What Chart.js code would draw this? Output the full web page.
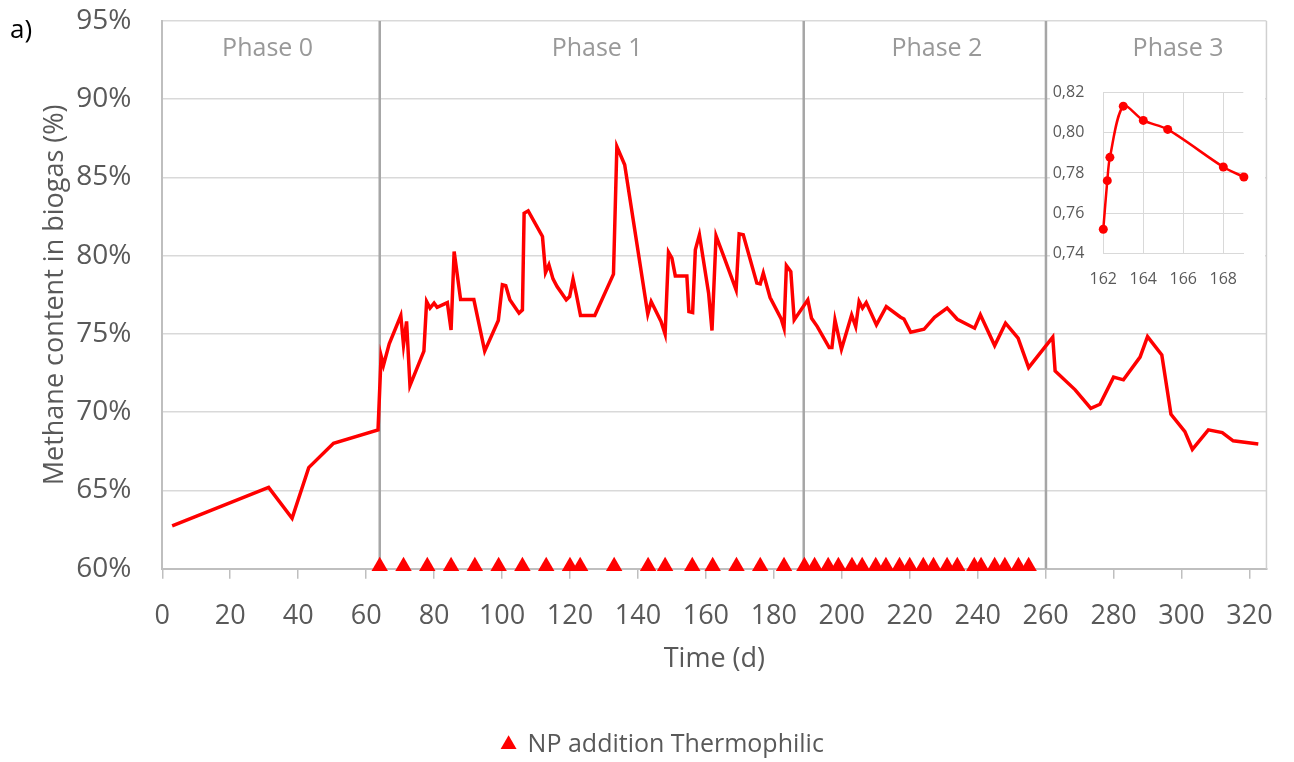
<!DOCTYPE html>
<html>
<head>
<meta charset="utf-8">
<title>Methane content in biogas</title>
<script src="https://cdn.jsdelivr.net/npm/chart.js@4.4.1/dist/chart.umd.min.js"></script>
<style>
  body { margin: 0; background: #fff; }
  #wrap { position: relative; width: 1294px; height: 762px; }
  #inset { position: absolute; left: 1050px; top: 70px; background: #fff; }
</style>
</head>
<body>
<div id="wrap">
  <canvas id="mainChart" width="1294" height="762"></canvas>
  <canvas id="inset" width="215" height="228"></canvas>
</div>
<script>
// Methane content (%) over time (d)
const days = [
  2.9, 31.3, 38.2, 43.1, 50.4, 63.5, 64.4, 65.1, 66.8, 70.2, 71.0, 71.9, 72.9,
  77.0, 77.8, 78.8, 80.0, 80.9, 83.9, 85.0, 85.9, 87.8, 91.7, 94.9, 98.9,
  100.1, 101.1, 102.3, 105.0, 106.0, 106.5, 107.7, 111.9, 112.8, 113.8, 115.0,
  116.2, 118.9, 119.9, 120.9, 121.9, 123.1, 127.3, 132.8, 133.8, 136.1, 142.9,
  143.9, 146.8, 148.0, 149.0, 150.0, 151.0, 154.4, 155.0, 156.1, 156.9, 158.1,
  160.8, 161.8, 163.0, 165.1, 168.9, 169.8, 171.0, 175.0, 176.0, 176.9, 178.9,
  182.1, 183.0, 183.7, 185.0, 186.0, 190.0, 191.1, 192.8, 196.3, 197.1, 198.0,
  199.9, 202.9, 204.1, 205.1, 206.1, 207.2, 210.2, 213.1, 217.3, 218.3, 220.3,
  224.2, 227.3, 231.0, 234.0, 239.1, 240.8, 245.0, 248.2, 251.9, 255.0, 262.1,
  262.8, 268.7, 273.3, 276.0, 280.0, 282.9, 287.8, 290.0, 294.2, 296.9, 301.0,
  303.2, 307.9, 312.0, 315.2, 322.6
];
const methane = [
  62.73, 65.2, 63.22, 66.46, 68.02, 68.87, 73.6, 73.0, 74.37, 76.18, 74.3, 75.8, 71.7,
  73.9, 77.07, 76.65, 76.97, 76.7, 77.0, 75.26, 80.27, 77.2, 77.2, 73.9, 75.86,
  78.14, 78.08, 77.18, 76.33, 76.54, 82.72, 82.87, 81.23, 78.93, 79.42, 78.52,
  78.03, 77.18, 77.39, 78.5, 77.5, 76.18, 76.18, 78.82, 86.98, 85.81, 76.27,
  77.07, 75.8, 74.99, 80.23, 79.85, 78.71, 78.71, 76.43, 76.37, 80.38, 81.34,
  77.61, 75.22, 81.27, 80.06, 77.82, 81.4, 81.34, 78.25, 78.2, 78.89, 77.33,
  76.0, 75.37, 79.37, 78.99, 75.9, 77.18, 76.0, 75.47, 74.13, 74.13, 75.9,
  74.03, 76.22, 75.47, 77.07, 76.65, 77.01, 75.58, 76.75, 76.07, 75.96, 75.11,
  75.3, 76.07, 76.65, 75.94, 75.37, 76.22, 74.26, 75.69, 74.73, 72.85, 74.8,
  72.64, 71.43, 70.25, 70.51, 72.24, 72.07, 73.52, 74.83, 73.66, 69.87, 68.76,
  67.63, 68.87, 68.7, 68.17, 67.97
];
const xTicks = [0, 20, 40, 60, 80, 100, 120, 140, 160, 180, 200, 220, 240, 260, 280, 300, 320];

// NP addition days (triangle markers)
const npDays = [
  64, 71, 78, 85, 92, 99, 106, 113, 120, 123, 133, 143, 148, 156, 162, 169,
  176, 183, 189, 192, 196, 199, 203, 206, 210, 213, 217, 220, 224, 227, 231,
  234, 239, 241, 245, 248, 252, 255
];
const npLevel = 60.15;
const npLabel = "NP addition Thermophilic";

// Phases
const phaseBounds = [64, 188.8, 260.1];
const phaseNames = ["Phase 0", "Phase 1", "Phase 2", "Phase 3"];
const phaseLabelDays = [31, 128, 228, 299];
const phaseLabelLevel = 93.2;

// Inset: detail around day 162-169 (fraction)
const insetDays = [162.0, 162.2, 162.33, 163.0, 164.0, 165.22, 168.0, 169.03];
const insetMethane = [0.752, 0.7762, 0.7878, 0.8133, 0.8062, 0.8017, 0.783, 0.778];
const insetXTicks = [162, 164, 166, 168];

const red = "#ff0000";
const textGray = "#595959";
Chart.defaults.font.family = "'Open Sans', sans-serif";

// Plugin for phase labels, panel letter and plot border
const extras = {
  id: "extras",
  afterDraw(chart) {
    const { ctx, chartArea, scales } = chart;
    ctx.save();
    ctx.strokeStyle = "#d0d0d0";
    ctx.lineWidth = 1.5;
    ctx.beginPath();
    ctx.moveTo(chartArea.right, chartArea.top);
    ctx.lineTo(chartArea.right, chartArea.bottom);
    ctx.stroke();

    ctx.font = "25px 'Open Sans'";
    ctx.fillStyle = "#999999";
    ctx.textAlign = "center";
    ctx.textBaseline = "middle";
    phaseNames.forEach((name, i) => {
      ctx.fillText(
        name,
        scales.x.getPixelForValue(phaseLabelDays[i]),
        scales.y.getPixelForValue(phaseLabelLevel)
      );
    });

    ctx.font = "26px 'Open Sans'";
    ctx.fillStyle = "#000";
    ctx.textAlign = "left";
    ctx.fillText("a)", 10, 31);
    ctx.restore();
  },
};

const phaseDatasets = phaseBounds.map((d) => ({
  label: "phase",
  data: [
    { x: d, y: 60 },
    { x: d, y: 95 },
  ],
  borderColor: "#a6a6a6",
  borderWidth: 2.5,
  pointRadius: 0,
  order: 2,
}));

new Chart(document.getElementById("mainChart"), {
  type: "line",
  data: {
    datasets: [
      ...phaseDatasets,
      {
        label: "Methane",
        data: days.map((d, i) => ({ x: d, y: methane[i] })),
        borderColor: red,
        borderWidth: 3.5,
        pointRadius: 0,
        tension: 0,
        order: 1,
      },
      {
        type: "scatter",
        label: npLabel,
        data: npDays.map((d) => ({ x: d, y: npLevel })),
        pointStyle: "triangle",
        pointRadius: 9.5,
        backgroundColor: red,
        borderColor: red,
        borderWidth: 0,
        clip: false,
        order: 0,
      },
    ],
  },
  options: {
    responsive: false,
    animation: false,
    layout: { padding: { top: 21, right: 25, bottom: -5, left: 57 } },
    plugins: {
      tooltip: { enabled: false },
      legend: {
        position: "bottom",
        labels: {
          filter: (item) => item.text === npLabel,
          usePointStyle: true,
          boxWidth: 13,
          boxHeight: 13,
          padding: 0,
          color: textGray,
          font: { size: 25 },
        },
      },
    },
    scales: {
      x: {
        type: "linear",
        min: 0,
        max: 325,
        afterBuildTicks: (s) => {
          s.ticks = xTicks.map((v) => ({ value: v }));
        },
        afterFit: (s) => {
          s.height = 163.3;
        },
        ticks: {
          maxRotation: 0,
          autoSkip: false,
          padding: 21,
          color: textGray,
          font: { size: 27 },
        },
        grid: {
          drawOnChartArea: false,
          drawTicks: true,
          tickLength: 10,
          color: "#bfbfbf",
          lineWidth: 1.5,
        },
        border: { color: "#bfbfbf", width: 2 },
        title: {
          display: true,
          text: "Time (d)",
          color: textGray,
          font: { size: 27 },
          padding: { top: 0, bottom: 56 },
        },
      },
      y: {
        min: 60,
        max: 95,
        afterFit: (s) => {
          s.width = 105.3;
        },
        ticks: {
          stepSize: 5,
          padding: 0,
          color: textGray,
          font: { size: 28 },
          callback: (v) => v + "%",
        },
        grid: {
          color: "#d9d9d9",
          lineWidth: 1.5,
          drawTicks: true,
          tickLength: 31,
          tickColor: "rgba(0,0,0,0)",
        },
        border: { color: "#bfbfbf", width: 2 },
        title: {
          display: true,
          text: "Methane content in biogas (%)",
          color: textGray,
          font: { size: 27 },
          padding: { top: -18, bottom: 0 },
        },
      },
    },
  },
  plugins: [extras],
});

// Inset chart
new Chart(document.getElementById("inset"), {
  type: "line",
  data: {
    datasets: [
      {
        data: insetDays.map((d, i) => ({ x: d, y: insetMethane[i] })),
        borderColor: red,
        backgroundColor: red,
        borderWidth: 2.5,
        pointRadius: 4.5,
        pointBorderWidth: 0,
        tension: 0.3,
        clip: false,
      },
    ],
  },
  options: {
    responsive: false,
    animation: false,
    layout: { padding: { top: 22.7, right: 21.7, bottom: 0, left: 0 } },
    plugins: { legend: { display: false }, tooltip: { enabled: false } },
    scales: {
      x: {
        type: "linear",
        min: 162,
        max: 169,
        afterBuildTicks: (s) => {
          s.ticks = insetXTicks.map((v) => ({ value: v }));
        },
        afterFit: (s) => {
          s.height = 44.7;
        },
        ticks: {
          maxRotation: 0,
          autoSkip: false,
          padding: 17,
          color: textGray,
          font: { size: 16 },
        },
        grid: { color: "#d9d9d9", drawTicks: false },
        border: { color: "#d9d9d9" },
      },
      y: {
        min: 0.74,
        max: 0.82,
        afterFit: (s) => {
          s.width = 53.3;
        },
        ticks: {
          stepSize: 0.02,
          padding: 0,
          color: textGray,
          font: { size: 16 },
          callback: (v) => v.toFixed(2).replace(".", ","),
        },
        grid: {
          color: "#d9d9d9",
          drawTicks: true,
          tickLength: 19,
          tickColor: "rgba(0,0,0,0)",
        },
        border: { color: "#d9d9d9" },
      },
    },
  },
});
</script>
</body>
</html>
